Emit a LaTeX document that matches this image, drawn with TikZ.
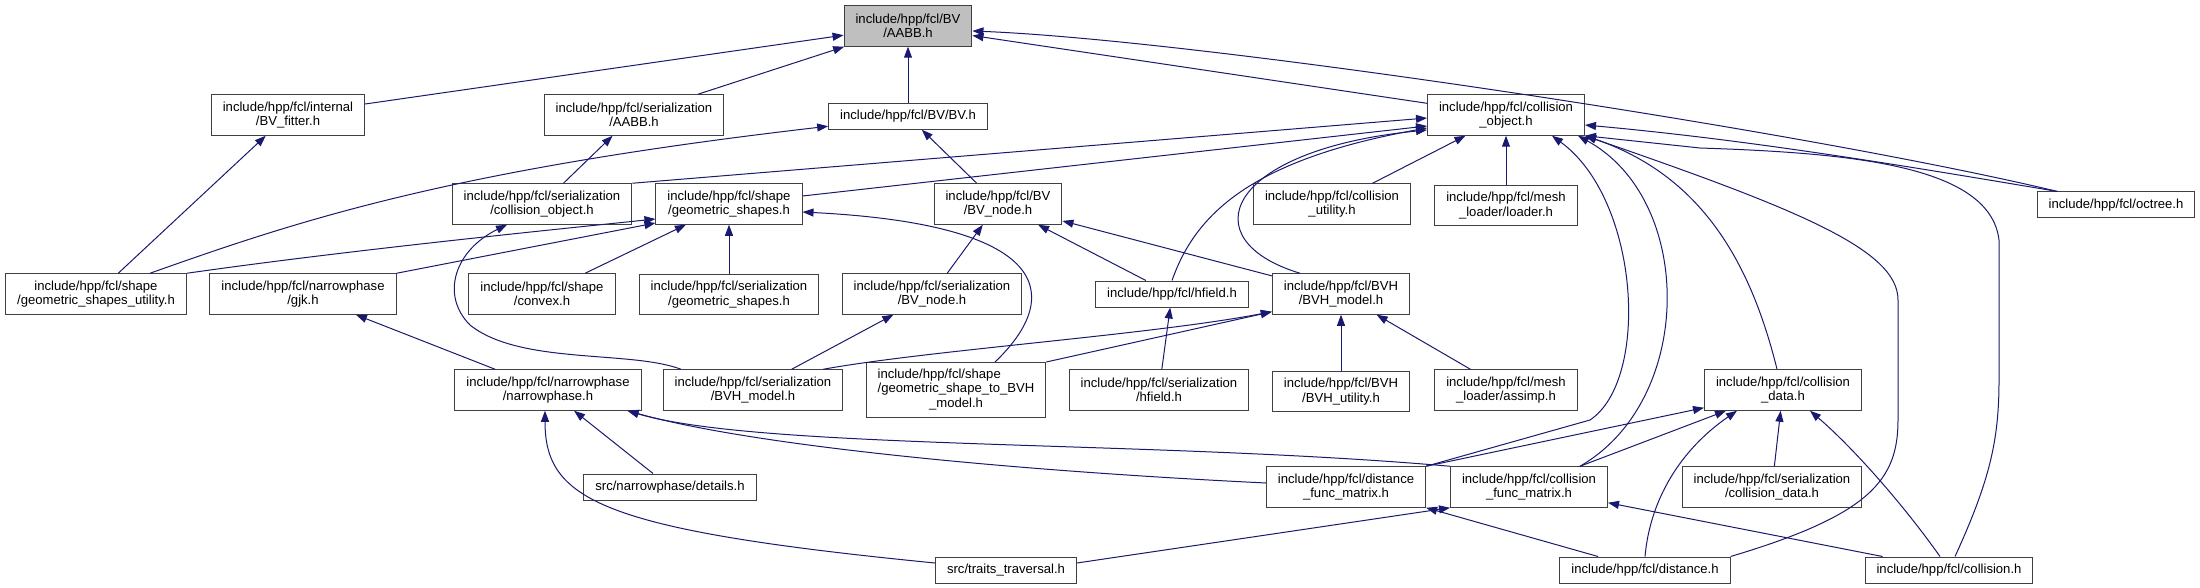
\documentclass[tikz,border=0pt]{standalone}
\usepackage{fontspec}
\setmainfont{Liberation Sans}
\usetikzlibrary{arrows.meta, positioning}
\definecolor{edgeblue}{HTML}{191970}
\definecolor{aabbgray}{HTML}{BFBFBF}
\newcommand{\filefont}{\fontsize{13.1}{14.5}\selectfont}
\tikzstyle{file} = [rectangle, draw=black!75, fill=white, line width=1pt, minimum height=26pt, inner xsep=11.5pt, inner ysep=2pt, text centered, align=center, font=\filefont]
\tikzstyle{file2} = [file, minimum height=40.5pt]
\tikzstyle{file3} = [file, minimum height=55pt]
\tikzstyle{arrow} = [line width=1pt, draw=edgeblue, -{Triangle[length=11pt,width=8pt]}]

\begin{document}
\begin{tikzpicture}[x=1pt, y=-1pt]
\path[use as bounding box, fill=white] (0,0) rectangle (2200,588);

% Header
\node (aabb) [file2, fill=aabbgray] at (908,26) {include/hpp/fcl/BV\\/AABB.h};

% First row
\node (bv) [file, below=56pt of aabb] {include/hpp/fcl/BV/BV.h};
\node (fitter) [file2] at (288,115) {include/hpp/fcl/internal\\/BV\_fitter.h};
\node (seraabb) [file2] at (634,115) {include/hpp/fcl/serialization\\/AABB.h};
\node (colobj) [file2] at (1506,115) {include/hpp/fcl/collision\\\_object.h};

% Second row
\node (sercolobj) [file2] at (542,204) {include/hpp/fcl/serialization\\/collision\_object.h};
\node (geomshapes) [file2] at (729,204) {include/hpp/fcl/shape\\/geometric\_shapes.h};
\node (bvnode) [file2] at (998,204) {include/hpp/fcl/BV\\/BV\_node.h};
\node (colutil) [file2] at (1332,204) {include/hpp/fcl/collision\\\_utility.h};
\node (loader) [file2, below=49pt of colobj] {include/hpp/fcl/mesh\\\_loader/loader.h};
\node (octree) [file] at (2116,205) {include/hpp/fcl/octree.h};

% Third row
\node (geomutil) [file2] at (96,294) {include/hpp/fcl/shape\\/geometric\_shapes\_utility.h};
\node (gjk) [file2] at (303,294) {include/hpp/fcl/narrowphase\\/gjk.h};
\node (convex) [file2] at (542,294) {include/hpp/fcl/shape\\/convex.h};
\node (sergeom) [file2, below=49pt of geomshapes] {include/hpp/fcl/serialization\\/geometric\_shapes.h};
\node (serbvnode) [file2] at (932,294) {include/hpp/fcl/serialization\\/BV\_node.h};
\node (hfield) [file] at (1172,294) {include/hpp/fcl/hfield.h};
\node (bvhmodel) [file2] at (1341,294) {include/hpp/fcl/BVH\\/BVH\_model.h};

% Fourth row
\node (narrow) [file2] at (548,390) {include/hpp/fcl/narrowphase\\/narrowphase.h};
\node (serbvh) [file2] at (753,390) {include/hpp/fcl/serialization\\/BVH\_model.h};
\node (tobvh) [file3] at (956,390) {\begin{tabular}{@{}l@{}}include/hpp/fcl/shape\\/geometric\_shape\_to\_BVH\\\multicolumn{1}{@{}c@{}}{\_model.h}\end{tabular}};
\node (serhfield) [file2] at (1159,390) {include/hpp/fcl/serialization\\/hfield.h};
\node (bvhutil) [file2, below=56pt of bvhmodel] {include/hpp/fcl/BVH\\/BVH\_utility.h};
\node (assimp) [file2] at (1506,390) {include/hpp/fcl/mesh\\\_loader/assimp.h};
\node (coldata) [file2] at (1783,390) {include/hpp/fcl/collision\\\_data.h};

% Fifth row
\node (details) [file] at (670,487) {src/narrowphase/details.h};
\node (distfm) [file2] at (1346,487) {include/hpp/fcl/distance\\\_func\_matrix.h};
\node (colfm) [file2] at (1529,487) {include/hpp/fcl/collision\\\_func\_matrix.h};
\node (sercoldata) [file2] at (1772,487) {include/hpp/fcl/serialization\\/collision\_data.h};

% Bottom row
\node (traits) [file] at (1006,570) {src/traits\_traversal.h};
\node (distance) [file] at (1645,570) {include/hpp/fcl/distance.h};
\node (collision) [file] at (1949,570) {include/hpp/fcl/collision.h};

% Arrows to AABB.h
\draw [arrow] (fitter) -- (aabb);
\draw [arrow] (seraabb) -- (aabb);
\draw [arrow] (bv) -- (aabb);
\draw [arrow] (colobj) -- (aabb);
\draw [arrow] ([xshift=21pt]octree.north west) .. controls (1800,130) and (1200,40) .. ([yshift=-5pt]aabb.east);

% Arrows to BV.h, BV_fitter.h, serialization/AABB.h
\draw [arrow] (bvnode) -- (bv);
\draw [arrow] ([xshift=54pt]geomutil.north) .. controls (300,220) and (450,170) .. ([yshift=-10pt]bv.west);
\draw [arrow] (geomutil) -- (fitter);
\draw [arrow] (sercolobj) -- (seraabb);

% Arrows to collision_object.h
\draw [arrow] (sercolobj.north east) -- ([yshift=-3pt]colobj.west);
\draw [arrow] ([yshift=8pt]geomshapes.east) -- ([yshift=-11pt]colobj.west);
\draw [arrow] (hfield.north) .. controls (1195,215) and (1250,160) .. ([yshift=-13pt]colobj.west);
\draw [arrow] ([xshift=-41pt]bvhmodel.north) .. controls (1190,240) and (1225,150) .. ([yshift=-15pt]colobj.west);
\draw [arrow] (colutil) -- (colobj);
\draw [arrow] (loader) -- (colobj);
\draw [arrow] (distfm.north east) -- (1590,420) .. controls (1650,380) and (1640,200) .. ([xshift=46pt]colobj.south);
\draw [arrow] ([xshift=51pt]colfm.north) .. controls (1695,400) and (1695,200) .. ([xshift=72pt]colobj.south);
\draw [arrow] ([xshift=-6pt]coldata.north) .. controls (1750,260) and (1700,175) .. (colobj.south east);
\draw [arrow] (distance.north east) .. controls (1870,515) and (1898,480) .. (1898,420) -- (1898,300) .. controls (1898,250) and (1800,210) .. (colobj.south east);
\draw [arrow] ([xshift=6pt]collision.north) .. controls (1990,480) and (1999,440) .. (1999,380) -- (1999,240) .. controls (1990,165) and (1850,153) .. (1700,148) -- (colobj.south east);
\draw [arrow] ([xshift=21pt]octree.north west) .. controls (1900,165) and (1750,140) .. ([yshift=-10pt]colobj.east);

% Arrows to BV_node.h
\draw [arrow] (serbvnode) -- (bvnode);
\draw [arrow] (hfield) -- (bvnode);
\draw [arrow] (bvhmodel) -- (bvnode);

% Arrows to geometric_shapes.h
\draw [arrow] (geomutil.north east) .. controls (350,250) and (550,230) .. ([yshift=-15pt]geomshapes.west);
\draw [arrow] (gjk.north east) -- ([yshift=-19pt]geomshapes.west);
\draw [arrow] (convex) -- (geomshapes);
\draw [arrow] (sergeom) -- (geomshapes);
\draw [arrow] ([xshift=39pt]tobvh.north) .. controls (1060,300) and (1060,225) .. ([yshift=-8pt]geomshapes.east);

% Arrows to serialization headers
\draw [arrow] ([xshift=-72pt]serbvh.north) .. controls (630,350) and (520,365) .. (470,325) .. controls (440,295) and (455,250) .. ([xshift=-35pt]sercolobj.south);
\draw [arrow] (serbvh) -- (serbvnode);
\draw [arrow] (serhfield) -- (hfield);
\draw [arrow] (narrow) -- (gjk);

% Arrows to BVH_model.h
\draw [arrow] ([xshift=-20pt]serbvh.north east) .. controls (930,350) and (1150,335) .. ([yshift=3pt]bvhmodel.south west);
\draw [arrow] (tobvh.north east) -- ([yshift=3pt]bvhmodel.south west);
\draw [arrow] (bvhutil) -- (bvhmodel);
\draw [arrow] (assimp) -- (bvhmodel);

% Arrows to narrowphase.h
\draw [arrow] (details) -- (narrow);
\draw [arrow] ([yshift=7pt]traits.west) .. controls (600,530) and (545,500) .. ([xshift=-3pt]narrow.south);
\draw [arrow] ([yshift=4pt]distfm.west) .. controls (1000,470) and (750,445) .. ([xshift=-14pt]narrow.south east);
\draw [arrow] (colfm.north west) .. controls (1150,440) and (760,450) .. ([xshift=-14pt]narrow.south east);

% Arrows to the function matrices
\draw [arrow] ([xshift=-47pt]distance.north) -- (distfm.south east);
\draw [arrow] ([yshift=7pt]traits.east) -- (colfm.south west);
\draw [arrow] ([xshift=18pt]collision.north west) -- ([yshift=5pt]colfm.south east);

% Arrows to collision_data.h
\draw [arrow] (distfm.north east) -- ([yshift=3pt]coldata.south west);
\draw [arrow] ([xshift=51pt]colfm.north) -- ([xshift=22pt]coldata.south west);
\draw [arrow] (distance.north) .. controls (1650,500) and (1680,450) .. ([xshift=33pt]coldata.south west);
\draw [arrow] (sercoldata) -- (coldata);
\draw [arrow] ([xshift=-9pt]collision.north) .. controls (1900,500) and (1850,445) .. ([xshift=27pt]coldata.south);

\end{tikzpicture}
\end{document}
